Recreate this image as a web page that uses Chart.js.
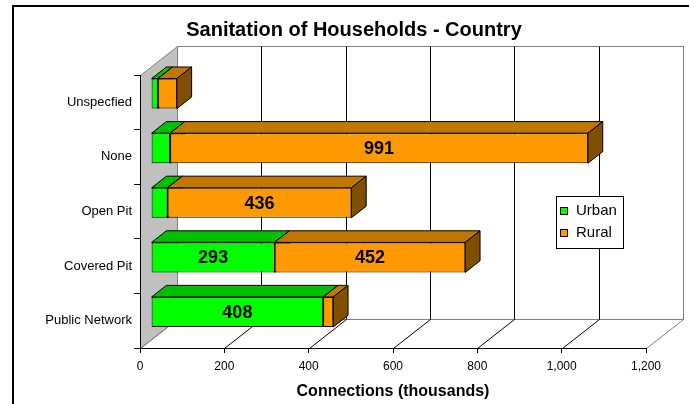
<!DOCTYPE html>
<html>
<head>
<meta charset="utf-8">
<title>Sanitation of Households - Country</title>
<script src="https://cdn.jsdelivr.net/npm/chart.js@4.4.1/dist/chart.umd.min.js"></script>
<style>
  html, body { margin: 0; padding: 0; background: #fff; }
  canvas { display: block; }
</style>
</head>
<body>
<canvas id="sanitation" width="689" height="404"></canvas>
<script>
const categories = ['Unspecfied', 'None', 'Open Pit', 'Covered Pit', 'Public Network'];
const urban = [16, 45, 39, 293, 408];
const rural = [45, 991, 436, 452, 24];
const xTicks = [0, 200, 400, 600, 800, 1000, 1200];

// oblique depth of the plot box, and the slab of it the bars sit in
const DEPTH = { dx: 37, dy: -29 };
const BAR_FRONT = 0.3, BAR_BACK = 0.7;

const FONT = 'Liberation Sans, Arial, sans-serif';
Chart.defaults.font.family = FONT;
Chart.defaults.color = '#000';

function depthOffset(f) {
  return { x: DEPTH.dx * f, y: DEPTH.dy * f };
}

function poly(ctx, pts) {
  ctx.beginPath();
  ctx.moveTo(pts[0][0], pts[0][1]);
  for (let i = 1; i < pts.length; i++) ctx.lineTo(pts[i][0], pts[i][1]);
  ctx.closePath();
}

function line(ctx, x0, y0, x1, y1) {
  ctx.beginPath();
  ctx.moveTo(x0, y0);
  ctx.lineTo(x1, y1);
  ctx.stroke();
}

const crisp = v => Math.round(v) + 0.5;

const box3d = {
  id: 'box3d',
  beforeDraw(chart) {
    const { ctx, chartArea: a, scales: { x } } = chart;
    const { dx, dy } = DEPTH;
    const L = crisp(a.left), T = crisp(a.top), B = crisp(a.bottom);
    ctx.save();
    ctx.lineWidth = 1;

    // outer frame
    ctx.strokeStyle = '#000';
    ctx.lineWidth = 2;
    line(ctx, 13, 404, 13, 6);
    line(ctx, 12, 6, 689, 6);
    ctx.lineWidth = 1;

    // title
    ctx.fillStyle = '#000';
    ctx.font = 'bold 20px ' + FONT;
    ctx.textAlign = 'center';
    ctx.textBaseline = 'alphabetic';
    ctx.fillText('Sanitation of Households - Country', 354, 36);

    // left wall
    ctx.fillStyle = '#c0c0c0';
    ctx.strokeStyle = '#808080';
    poly(ctx, [[L, T], [L + dx, T + dy], [L + dx, B + dy], [L, B]]);
    ctx.fill();
    ctx.stroke();

    // back wall outline and floor far edge
    const R = crisp(x.getPixelForValue(xTicks[xTicks.length - 1]));
    ctx.strokeRect(L + dx, T + dy, R - L, B - T);

    // gridlines on back wall and floor
    xTicks.forEach((v, i) => {
      const px = crisp(x.getPixelForValue(v));
      const edge = i === 0 || i === xTicks.length - 1;
      ctx.strokeStyle = edge ? '#808080' : '#000';
      line(ctx, px + dx, T + dy, px + dx, B + dy);
      line(ctx, px, B, px + dx, B + dy);
    });
    ctx.restore();
  },
  beforeDatasetsDraw(chart) {
    const { ctx } = chart;
    const f = depthOffset(BAR_FRONT), b = depthOffset(BAR_BACK);
    const ddx = b.x - f.x, ddy = b.y - f.y;
    ctx.save();
    ctx.lineWidth = 1;
    ctx.strokeStyle = '#000';
    chart.data.datasets.forEach((ds, di) => {
      chart.getDatasetMeta(di).data.forEach(bar => {
        const { x, y, base, height } = bar.getProps(['x', 'y', 'base', 'height'], true);
        const x0 = base + f.x, x1 = x + f.x;
        const y0 = y - height / 2 + f.y, y1 = y + height / 2 + f.y;
        // top face
        ctx.fillStyle = ds.topColor;
        poly(ctx, [[x0, y0], [x0 + ddx, y0 + ddy], [x1 + ddx, y0 + ddy], [x1, y0]]);
        ctx.fill();
        ctx.stroke();
        // end face
        ctx.fillStyle = ds.sideColor;
        poly(ctx, [[x1, y0], [x1 + ddx, y0 + ddy], [x1 + ddx, y1 + ddy], [x1, y1]]);
        ctx.fill();
        ctx.stroke();
      });
    });
    ctx.restore();
    // front faces are drawn by Chart.js, pushed back into the slab
    ctx.save();
    ctx.translate(f.x, f.y);
  },
  afterDatasetsDraw(chart) {
    const { ctx } = chart;
    ctx.restore();
    const f = depthOffset(BAR_FRONT);
    ctx.save();
    ctx.fillStyle = '#000';
    ctx.font = 'bold 18px ' + FONT;
    ctx.textAlign = 'center';
    ctx.textBaseline = 'middle';
    chart.data.datasets.forEach((ds, di) => {
      chart.getDatasetMeta(di).data.forEach((bar, i) => {
        const v = ds.data[i];
        if (v < 100) return;
        const { x, y, base } = bar.getProps(['x', 'y', 'base'], true);
        ctx.fillText(String(v), (x + base) / 2 + f.x, y + f.y + 1);
      });
    });
    ctx.restore();
  },
  afterDraw(chart) {
    // legend box
    const { ctx } = chart;
    ctx.save();
    ctx.fillStyle = '#fff';
    ctx.strokeStyle = '#000';
    ctx.lineWidth = 1;
    ctx.fillRect(556, 196, 67, 52);
    ctx.strokeRect(556.5, 196.5, 67, 52);
    ctx.font = '15px ' + FONT;
    ctx.textBaseline = 'middle';
    ctx.textAlign = 'left';
    chart.data.datasets.forEach((ds, i) => {
      const cy = 211 + i * 22;
      ctx.fillStyle = ds.backgroundColor;
      ctx.fillRect(561, cy - 3, 6, 6);
      ctx.strokeRect(560.5, cy - 3.5, 7, 7);
      ctx.fillStyle = '#000';
      ctx.fillText(ds.label, 576, cy);
    });
    ctx.restore();
  }
};

new Chart(document.getElementById('sanitation'), {
  type: 'bar',
  data: {
    labels: categories,
    datasets: [
      {
        label: 'Urban', data: urban,
        backgroundColor: '#00ff00', topColor: '#00c000', sideColor: '#008000',
        borderColor: '#000', borderWidth: 1, borderSkipped: false
      },
      {
        label: 'Rural', data: rural,
        backgroundColor: '#ff9900', topColor: '#c07800', sideColor: '#804f00',
        borderColor: '#000', borderWidth: 1, borderSkipped: false
      }
    ]
  },
  options: {
    indexAxis: 'y',
    responsive: false,
    animation: false,
    barPercentage: 0.55,
    categoryPercentage: 1,
    clip: false,
    layout: { padding: { top: 75, right: 43, bottom: 0, left: 0 } },
    plugins: {
      legend: { display: false },
      title: { display: false },
      tooltip: { enabled: false }
    },
    scales: {
      x: {
        stacked: true,
        min: 0,
        max: 1200,
        ticks: {
          stepSize: 200,
          padding: 6,
          font: { size: 12 },
          callback: v => v.toLocaleString('en-US')
        },
        grid: { drawOnChartArea: false, tickLength: 5, color: '#000' },
        border: { color: '#000' },
        title: {
          display: true,
          text: 'Connections (thousands)',
          font: { size: 16, weight: 'bold' },
          padding: { top: 0, bottom: 3 }
        },
        afterFit: s => { s.height = 56; }
      },
      y: {
        stacked: true,
        ticks: { padding: 2, font: { size: 13 } },
        grid: { drawOnChartArea: false, tickLength: 6, color: '#000' },
        border: { color: '#000' },
        afterFit: s => { s.width = 140; }
      }
    }
  },
  plugins: [box3d]
});
</script>
</body>
</html>
